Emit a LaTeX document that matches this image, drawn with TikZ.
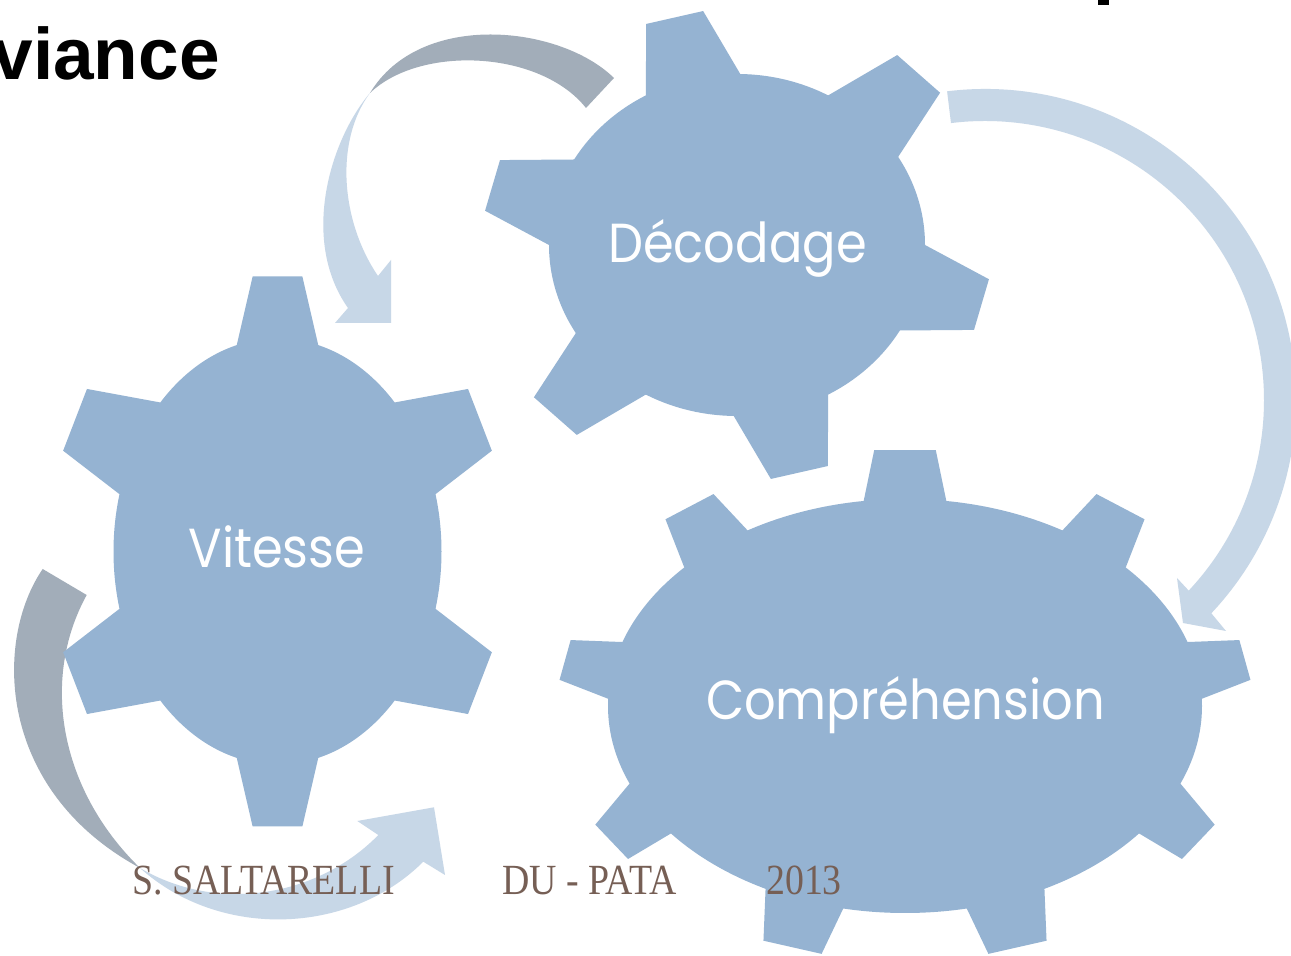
\documentclass[tikz,border=0pt]{standalone}
\usepackage{fontspec}
\setmainfont{Liberation Serif}
\newfontfamily\cogfont{Poppins}
\newfontfamily\titlefont{Liberation Sans}
\usetikzlibrary{calc}
\definecolor{cogblue}{HTML}{95B3D2}
\definecolor{arrowlight}{HTML}{C7D7E7}
\definecolor{arrowgrey}{HTML}{A2ADB9}
\definecolor{footbrown}{HTML}{765F55}
\tikzset{
	cog/.style={fill=cogblue},
	lbl/.style={text=white, inner sep=0, anchor=base, font=\cogfont\fontsize{55}{62}\selectfont},
	foot/.style={text=footbrown, inner sep=0, anchor=base west, font=\fontsize{43}{50}\selectfont}
}
\def\cog(#1)(#2:#3)(#4:#5)#6{\begin{scope}[shift={(#1)},xscale=#2,yscale=#3]
	\fill[cog] (0,0) circle (1);
	\foreach \ta/\ba/\ra in {#6}
		\fill[cog] ({\ba-#4}:0.7) -- ({\ba-#4}:1) -- ({\ta-#5}:\ra) -- ({\ta+#5}:\ra) -- ({\ba+#4}:1) -- ({\ba+#4}:0.7) -- cycle;
	\end{scope}}

\begin{document}
\begin{tikzpicture}[x=1pt,y=1pt]
			%%%%% START %%%%%
			\useasboundingbox (0,0) rectangle (1291,956);
			\fill[white] (0,0) rectangle (1291,956);
			
			\node[anchor=base east, inner sep=0, font=\titlefont\bfseries\fontsize{73}{80}\selectfont] (titre) at (220,876) {viance};
			\fill[black] (1098,951) rectangle (1109,956);
			
			\fill[arrowgrey] (614,878) .. controls (560,931) and (420,946) .. (370,863) .. controls (420,911) and (540,906) .. (586,848) -- cycle;
			\fill[arrowlight] (370,863) .. controls (330,816) and (300,716) .. (348,648) -- (335,633) -- (391,633) -- (391,696) -- (378,680) .. controls (340,736) and (335,816) .. (370,863) -- cycle;
			
			\coordinate (bc) at (985,556);
			\fill[arrowlight] ([shift={(97:311)}]bc) arc[start angle=97, end angle=-43.3, radius=311] -- (1226,325) -- (1183,333) -- (1177,378) -- ([shift={(-43.1:279)}]bc) arc[start angle=-43.1, end angle=97, radius=279] -- cycle;
			
			\fill[arrowgrey] (42.7,387) .. controls (-6,316) and (-4,166) .. (140,88) .. controls (60,166) and (40,276) .. (86.7,361) -- cycle;
			\fill[arrowlight] (140,88) .. controls (220,16) and (350,21) .. (423.3,94.3) -- (445,81) -- (434,148.7) -- (357.3,135) -- (378.3,121) .. controls (320,61) and (220,41) .. (140,88) -- cycle;
			
			\cog(737,711)(188:171)(15:6.5){104/104/1.38, 46/46/1.40, -15/-15/1.355, -76/-76/1.38, -134/-134/1.40, 165/165/1.355}
			\cog(277.5,404.5)(164:213)(14.4:6.7){90/90/1.30, 26.6/30/1.39, -26.6/-30/1.39, -90/-90/1.30, -153.4/-150/1.39, 153.4/150/1.39}
			\cog(905,250)(297:207)(8:4.8){90/90/1.24, 53/50/1.21, 11/10/1.17, -33.6/-30/1.19, -72/-70/1.23, -108/-110/1.23, -146.4/-150/1.19, 169/170/1.17, 127/130/1.21}
			
			\node[lbl] (decodage) at (737.5,693) {\scalebox{0.9}[1]{Décodage}};
			\node[lbl] (vitesse) at (277,388) {\scalebox{0.9}[1]{Vitesse}};
			\node[lbl] (comprehension) at (905.5,236) {\scalebox{0.9}[1]{Compréhension}};
			
			\node[foot] (auteur) at (132,61) {\scalebox{0.88}[1]{S. SALTARELLI}};
			\node[foot] (diplome) at (502,61) {\scalebox{0.88}[1]{DU - PATA}};
			\node[foot] (annee) at (766,61) {\scalebox{0.88}[1]{2013}};
			%%%%% END %%%%%
\end{tikzpicture}
\end{document}
